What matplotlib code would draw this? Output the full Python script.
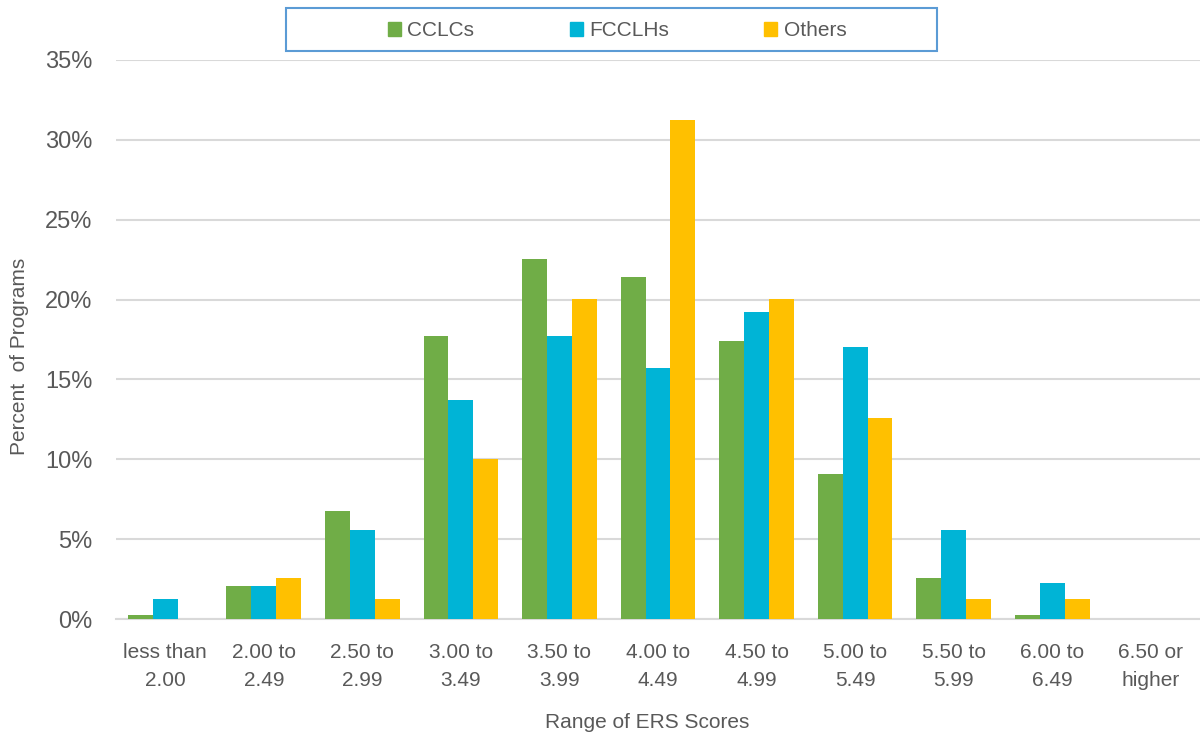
import numpy as np
import matplotlib.pyplot as plt
from matplotlib.patches import Rectangle, Patch

# ERS score ranges (x categories)
categories = ['less than\n2.00', '2.00 to\n2.49', '2.50 to\n2.99', '3.00 to\n3.49',
              '3.50 to\n3.99', '4.00 to\n4.49', '4.50 to\n4.99', '5.00 to\n5.49',
              '5.50 to\n5.99', '6.00 to\n6.49', '6.50 or\nhigher']

# percent of programs in each range
cclcs = [0.23, 2.06, 6.75, 17.73, 22.56, 21.4, 17.42, 9.06, 2.56, 0.23, 0]
fcclhs = [1.25, 2.06, 5.56, 13.73, 17.73, 15.73, 19.23, 17.06, 5.56, 2.25, 0]
others = [0, 2.56, 1.25, 10.04, 20.06, 31.25, 20.06, 12.56, 1.25, 1.25, 0]

series_names = ['CCLCs', 'FCCLHs', 'Others']
colors = ['#70AD47', '#00B4D6', '#FFC000']
text_color = '#595959'
grid_color = '#D9D9D9'

plt.rcParams['font.family'] = ['Liberation Sans', 'DejaVu Sans']

fig = plt.figure(figsize=(12, 7.38), dpi=100)
ax = fig.add_axes([116/1200, 1 - 619/738, 1 - 116/1200, (619 - 60)/738])

x = np.arange(len(categories))
w = 0.253
for k, (vals, c) in enumerate(zip([cclcs, fcclhs, others], colors)):
    ax.bar(x + (k - 1)*w, vals, width=w, color=c, zorder=3)

ax.set_xlim(-0.5, len(categories) - 0.5)
ax.set_ylim(0, 35)
ax.set_yticks(np.arange(0, 36, 5))
ax.set_yticklabels([f'{v}%' for v in range(0, 36, 5)])
ax.yaxis.grid(True, color=grid_color, linewidth=1.5, zorder=0)
ax.set_axisbelow(True)

for s in ['top', 'right', 'left']:
    ax.spines[s].set_visible(False)
ax.spines['bottom'].set_color(grid_color)
ax.spines['bottom'].set_linewidth(1.5)

ax.set_xticks(x)
ax.set_xticklabels(categories, linespacing=1.65)
ax.tick_params(axis='x', length=0, pad=17, labelsize=15, labelcolor=text_color)
ax.tick_params(axis='y', length=0, pad=17, labelsize=17, labelcolor=text_color)

ax.set_xlabel('Range of ERS Scores', fontsize=15, color=text_color)
ax.xaxis.set_label_coords(0.49, -0.168)
ax.set_ylabel('Percent  of Programs', fontsize=15, color=text_color)
ax.yaxis.set_label_coords(-0.08, 0.47)

# legend box along the top
fig.patches.append(Rectangle((286/1200, 1 - 51/738), 651/1200, 43/738,
                             transform=fig.transFigure, fill=False,
                             edgecolor='#5B9BD5', linewidth=1.5))
handles = [Patch(color=c, label=n) for c, n in zip(colors, series_names)]
fig.legend(handles=handles, ncol=3, loc='center',
           bbox_to_anchor=(617/1200, 1 - 31/738), frameon=False,
           fontsize=15, labelcolor=text_color, handlelength=0.62,
           handleheight=0.62, handletextpad=0.3, columnspacing=4.6)

fig.savefig('out.png', dpi=100)
